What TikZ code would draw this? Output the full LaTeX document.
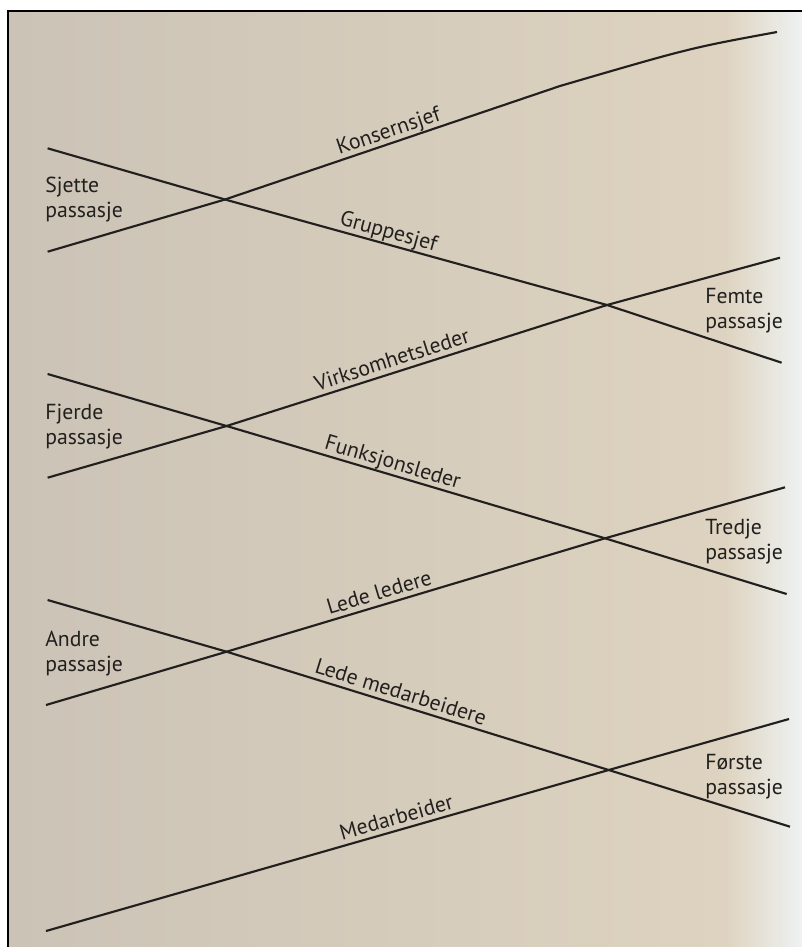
\documentclass[tikz,border=0pt]{standalone}
\usepackage{fontspec}
\setsansfont{PT Sans}
\definecolor{paperA}{RGB}{203,195,182}
\definecolor{paperB}{RGB}{222,211,192}
\definecolor{paperC}{RGB}{238,242,242}
\definecolor{ink}{RGB}{34,32,30}
\begin{document}
\begin{tikzpicture}[x=0.75pt,y=-0.75pt,
    stroke/.style={line width=1.6pt,ink},
    lbl/.style={font=\sffamily\fontsize{16.3}{18.75}\selectfont,text=ink,sloped,above=1.5pt,inner sep=0pt,text depth=.2em,pos=#1},
    side/.style={font=\sffamily\fontsize{16.3}{18.75}\selectfont,text=ink,align=left,anchor=north west,inner sep=0pt}]
    \useasboundingbox (0,0) rectangle (802,947);
    % paper
    \fill[white] (0,0) rectangle (802,947);
    \shade[left color=paperA,right color=paperB] (8,11) rectangle (725,947);
    \shade[left color=paperB,right color=paperC] (725,11) rectangle (802,947);
    \draw[line width=1.9pt,black] (8,947)--(8,11)--(802,11);
    % crossings
    \coordinate (x6) at (225,199.5);
    \coordinate (x5) at (607,305);
    \coordinate (x4) at (226.6,426);
    \coordinate (x3) at (605,538.3);
    \coordinate (x2) at (226.6,651.7);
    \coordinate (x1) at (608.7,770);
    % free ends
    \coordinate (k0) at (47.6,251.7); \coordinate (k1) at (560,86); \coordinate (k2) at (777,32);
    \coordinate (g0) at (47.6,148.3); \coordinate (g2) at (781.6,362.7);
    \coordinate (v0) at (47.6,477.7); \coordinate (v2) at (780,257.7);
    \coordinate (f0) at (47.6,374);   \coordinate (f2) at (786.7,594);
    \coordinate (l0) at (46,705);     \coordinate (l2) at (785,487.3);
    \coordinate (m0) at (47.6,600);   \coordinate (m2) at (790,826.7);
    \coordinate (a0) at (46,931);     \coordinate (a2) at (789,719);
    % lines
    \draw[stroke] (k0)--(x6)--node[lbl=.5](konsern){Konsernsjef}(k1) .. controls (690,48) .. (k2);
    \draw[stroke] (g0)--(x6)--node[lbl=.42](gruppe){Gruppesjef}(x5)--(g2);
    \draw[stroke] (v0)--(x4)--node[lbl=.445](virksomhet){Virksomhetsleder}(x5)--(v2);
    \draw[stroke] (f0)--(x4)--node[lbl=.43](funksjon){Funksjonsleder}(x3)--(f2);
    \draw[stroke] (l0)--(x2)--node[lbl=.413](ledere){Lede ledere}(x3)--(l2);
    \draw[stroke] (m0)--(x2)--node[lbl=.446](medarb){Lede medarbeidere}(x1)--(m2);
    \draw[stroke] (a0)--node[lbl=.629](arbeider){Medarbeider}(x1)--(a2);
    % passasjer
    \node[side] (p6) at (45,177) {Sjette\\passasje};
    \node[side] (p5) at (705,288) {Femte\\passasje};
    \node[side] (p4) at (45,404) {Fjerde\\passasje};
    \node[side] (p3) at (705,519) {Tredje\\passasje};
    \node[side] (p2) at (45,631) {Andre\\passasje};
    \node[side] (p1) at (705,754) {Første\\passasje};
\end{tikzpicture}
\end{document}
